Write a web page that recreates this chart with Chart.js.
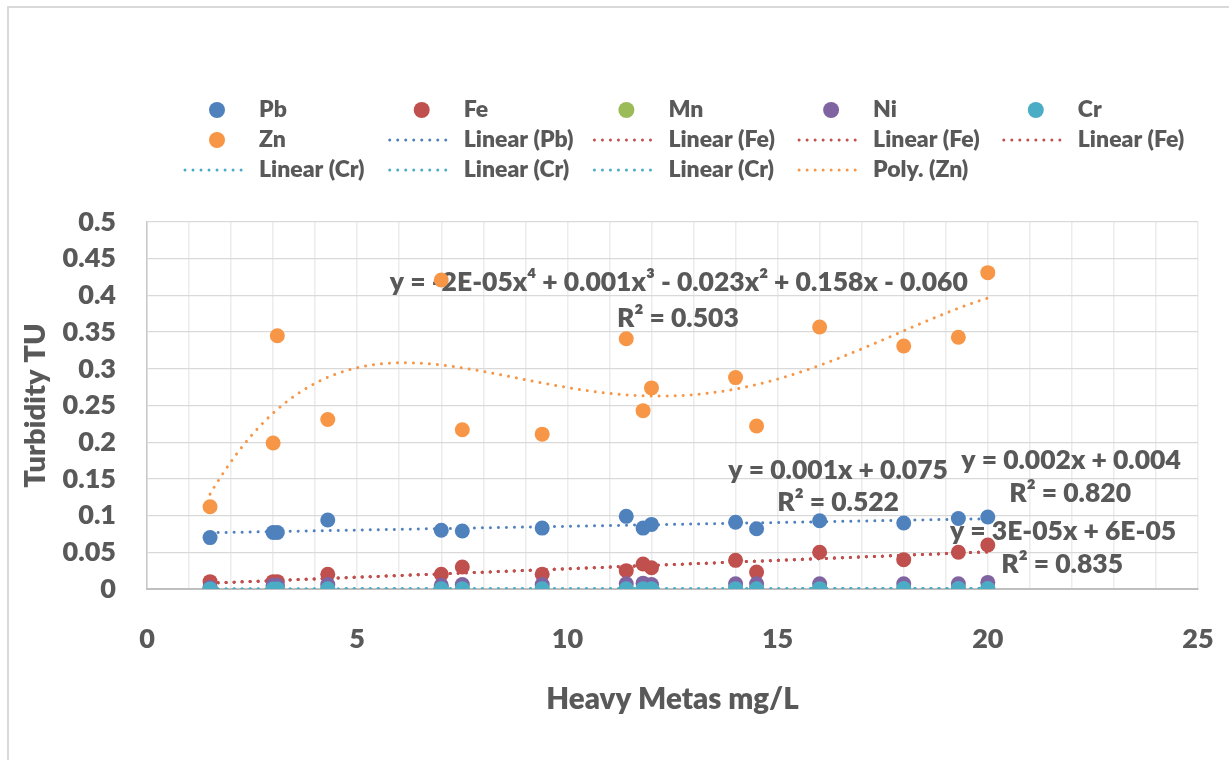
<!DOCTYPE html>
<html>
<head>
<meta charset="utf-8">
<script src="https://cdn.jsdelivr.net/npm/chart.js@4.4.1/dist/chart.umd.min.js"></script>
<style>
    html, body { margin: 0; padding: 0; background: #fff; }
    #wrap { width: 1229px; height: 760px; }
</style>
</head>
<body>
<div id="wrap"><canvas id="grafico" width="1229" height="760"></canvas></div>
<script>
// ===============================
//   Datos
// ===============================
const metales = [1.5, 3.0, 3.1, 4.3, 7.0, 7.5, 9.4, 11.4, 11.8, 12.0, 14.0, 14.5, 16.0, 18.0, 19.3, 20.0];

const pb = [0.070, 0.077, 0.077, 0.094, 0.080, 0.079, 0.083, 0.099, 0.083, 0.088, 0.091, 0.082, 0.093, 0.090, 0.096, 0.098];
const fe = [0.010, 0.010, 0.010, 0.020, 0.020, 0.030, 0.020, 0.025, 0.034, 0.029, 0.039, 0.023, 0.050, 0.040, 0.050, 0.060];
const mn = [0.001, 0.001, 0.001, 0.001, 0.001, 0.001, 0.001, 0.001, 0.001, 0.001, 0.001, 0.001, 0.001, 0.001, 0.001, 0.001];
const ni = [0.002, 0.005, 0.005, 0.006, 0.005, 0.006, 0.006, 0.007, 0.008, 0.006, 0.007, 0.007, 0.007, 0.007, 0.007, 0.009];
const cr = [0.0001, 0.0001, 0.0001, 0.0002, 0.0003, 0.0002, 0.0003, 0.0004, 0.0004, 0.0004, 0.0005, 0.0004, 0.0005, 0.0006, 0.0006, 0.0007];
const zn = [0.112, 0.199, 0.345, 0.231, 0.421, 0.217, 0.211, 0.341, 0.243, 0.274, 0.288, 0.222, 0.357, 0.331, 0.343, 0.431];

const etiquetasEcuacion = [
    "y = -2E-05x\u2074 + 0.001x\u00b3 - 0.023x\u00b2 + 0.158x - 0.060",
    "R\u00b2 = 0.503",
    "y = 0.001x + 0.075",
    "R\u00b2 = 0.522",
    "y = 0.002x + 0.004",
    "R\u00b2 = 0.820",
    "y = 3E-05x + 6E-05",
    "R\u00b2 = 0.835"
];

const GRIS = "#595959";
const PESO = "800";

// -------------------------------
// Ajuste por mínimos cuadrados
// -------------------------------
function ajustePolinomio(xs, ys, grado) {
    const n = grado + 1;
    const A = [];
    const b = [];
    for (let i = 0; i < n; i++) {
        A.push(new Array(n).fill(0));
        b.push(0);
    }
    xs.forEach((x, k) => {
        const t = x / 10;
        for (let i = 0; i < n; i++) {
            for (let j = 0; j < n; j++) A[i][j] += Math.pow(t, i + j);
            b[i] += ys[k] * Math.pow(t, i);
        }
    });
    for (let c = 0; c < n; c++) {
        let p = c;
        for (let r = c + 1; r < n; r++) if (Math.abs(A[r][c]) > Math.abs(A[p][c])) p = r;
        [A[c], A[p]] = [A[p], A[c]];
        [b[c], b[p]] = [b[p], b[c]];
        for (let r = c + 1; r < n; r++) {
            const f = A[r][c] / A[c][c];
            for (let k = c; k < n; k++) A[r][k] -= f * A[c][k];
            b[r] -= f * b[c];
        }
    }
    const coef = new Array(n).fill(0);
    for (let i = n - 1; i >= 0; i--) {
        let s = b[i];
        for (let k = i + 1; k < n; k++) s -= A[i][k] * coef[k];
        coef[i] = s / A[i][i];
    }
    return coef;
}

function curvaTendencia(xs, ys, grado) {
    const coef = ajustePolinomio(xs, ys, grado);
    const xmin = Math.min(...xs);
    const xmax = Math.max(...xs);
    const puntos = [];
    for (let x = xmin; x <= xmax + 1e-9; x += 0.1) {
        const t = x / 10;
        let y = 0;
        coef.forEach((c, i) => y += c * Math.pow(t, i));
        puntos.push({ x: x, y: y });
    }
    return puntos;
}

function puntos(ys) {
    return metales.map((x, i) => ({ x: x, y: ys[i] }));
}

// -------------------------------
// Datasets
// -------------------------------
function serie(label, ys, color, orden) {
    return {
        type: "scatter",
        label: label,
        data: puntos(ys),
        backgroundColor: color,
        borderWidth: 0,
        pointRadius: 7.5,
        pointHoverRadius: 7.5,
        order: orden
    };
}

function tendencia(label, ys, grado, color) {
    return {
        type: "scatter",
        label: label,
        data: curvaTendencia(metales, ys, grado),
        showLine: true,
        borderColor: color,
        backgroundColor: color,
        borderWidth: 3,
        borderDash: [0.01, 8],
        borderCapStyle: "round",
        pointRadius: 0,
        pointHoverRadius: 0,
        order: 10
    };
}

const datasets = [
    serie("Pb", pb, "#4F81BD", 6),
    serie("Fe", fe, "#C0504D", 5),
    serie("Mn", mn, "#9BBB59", 4),
    serie("Ni", ni, "#8064A2", 3),
    serie("Cr", cr, "#4BACC6", 2),
    serie("Zn", zn, "#F79646", 1),
    tendencia("Linear (Pb)", pb, 1, "#4F81BD"),
    tendencia("Linear (Fe)", fe, 1, "#C0504D"),
    tendencia("Linear (Fe)", fe, 1, "#C0504D"),
    tendencia("Linear (Fe)", fe, 1, "#C0504D"),
    tendencia("Linear (Cr)", cr, 1, "#4BACC6"),
    tendencia("Linear (Cr)", cr, 1, "#4BACC6"),
    tendencia("Linear (Cr)", cr, 1, "#4BACC6"),
    tendencia("Poly. (Zn)", zn, 4, "#F79646")
];

// -------------------------------
// Plugins
// -------------------------------
const marco = {
    id: "marco",
    beforeDraw(chart) {
        const { ctx } = chart;
        ctx.save();
        ctx.fillStyle = "#fff";
        ctx.fillRect(0, 0, chart.width, chart.height);
        ctx.strokeStyle = "#d9d9d9";
        ctx.lineWidth = 2;
        ctx.strokeRect(8, 7, 1240, 780);
        ctx.restore();
    }
};

const leyendaRejilla = {
    id: "leyendaRejilla",
    afterDraw(chart) {
        const { ctx } = chart;
        chart.data.datasets.forEach((ds, i) => {
            const cx = 217 + (i % 5) * 204.7;
            const cy = 110 + Math.floor(i / 5) * 30;
            ctx.save();
            if (ds.showLine) {
                ctx.strokeStyle = ds.borderColor;
                ctx.lineWidth = 3;
                ctx.lineCap = "round";
                ctx.setLineDash([0.01, 8]);
                ctx.beginPath();
                ctx.moveTo(cx - 32, cy);
                ctx.lineTo(cx + 32, cy);
                ctx.stroke();
            } else {
                ctx.fillStyle = ds.backgroundColor;
                ctx.beginPath();
                ctx.arc(cx, cy, 8, 0, Math.PI * 2);
                ctx.fill();
            }
            ctx.fillStyle = GRIS;
            ctx.font = PESO + " 23px Lato";
            ctx.textBaseline = "middle";
            ctx.textAlign = "left";
            ctx.fillText(ds.label, cx + 42, cy);
            ctx.restore();
        });
    }
};

const ecuaciones = {
    id: "ecuaciones",
    beforeDatasetsDraw(chart) {
        const { ctx, scales: { x, y } } = chart;
        const sitios = [
            [12.65, 0.417], [12.63, 0.369],
            [16.44, 0.162], [16.44, 0.1185],
            [21.98, 0.175], [21.96, 0.130],
            [21.79, 0.079], [21.77, 0.034]
        ];
        ctx.save();
        ctx.fillStyle = GRIS;
        ctx.font = PESO + " 26.5px Lato";
        ctx.textAlign = "center";
        ctx.textBaseline = "middle";
        etiquetasEcuacion.forEach((t, i) => {
            ctx.fillText(t, x.getPixelForValue(sitios[i][0]), y.getPixelForValue(sitios[i][1]));
        });
        ctx.restore();
    }
};

// -------------------------------
// Gráfico
// -------------------------------
function dibujarGrafico() {
    const ctx = document.getElementById("grafico").getContext("2d");
    Chart.defaults.font.family = "Lato";

    new Chart(ctx, {
        type: "scatter",
        data: { datasets: datasets },
        options: {
            responsive: false,
            animation: false,
            layout: { padding: { left: 0, right: 31, top: 222, bottom: 0 } },
            plugins: {
                legend: { display: false },
                tooltip: { enabled: false }
            },
            scales: {
                x: {
                    type: "linear",
                    min: 0,
                    max: 25,
                    afterFit(scale) {
                        scale.height = 171;
                        scale.paddingLeft = 0;
                        scale.paddingRight = 0;
                    },
                    ticks: {
                        stepSize: 1,
                        autoSkip: false,
                        maxRotation: 0,
                        padding: 34,
                        color: GRIS,
                        font: { size: 27, weight: PESO },
                        callback: v => (v % 5 === 0 ? v : "")
                    },
                    grid: { color: "#ececec", lineWidth: 1.5, drawTicks: false },
                    border: { color: "#bfbfbf", width: 2 },
                    title: {
                        display: true,
                        text: "Heavy Metas mg/L",
                        color: GRIS,
                        font: { size: 29.5, weight: PESO },
                        padding: { top: 0, bottom: 43 }
                    }
                },
                y: {
                    min: 0,
                    max: 0.5,
                    afterFit(scale) {
                        scale.width = 147;
                        scale.paddingTop = 0;
                        scale.paddingBottom = 0;
                    },
                    ticks: {
                        stepSize: 0.05,
                        padding: 31,
                        color: GRIS,
                        font: { size: 27, weight: PESO },
                        callback: v => String(+v.toFixed(2))
                    },
                    grid: { color: "#d9d9d9", lineWidth: 1.3, drawTicks: false },
                    border: { color: "#c8c8c8", width: 1.5 },
                    title: {
                        display: true,
                        text: "Turbidity TU",
                        color: GRIS,
                        font: { size: 29, weight: PESO },
                        padding: { top: 18, bottom: 0 }
                    }
                }
            }
        },
        plugins: [marco, ecuaciones, leyendaRejilla]
    });
}

document.fonts.load(PESO + " 27px Lato").then(dibujarGrafico, dibujarGrafico);
</script>
</body>
</html>
